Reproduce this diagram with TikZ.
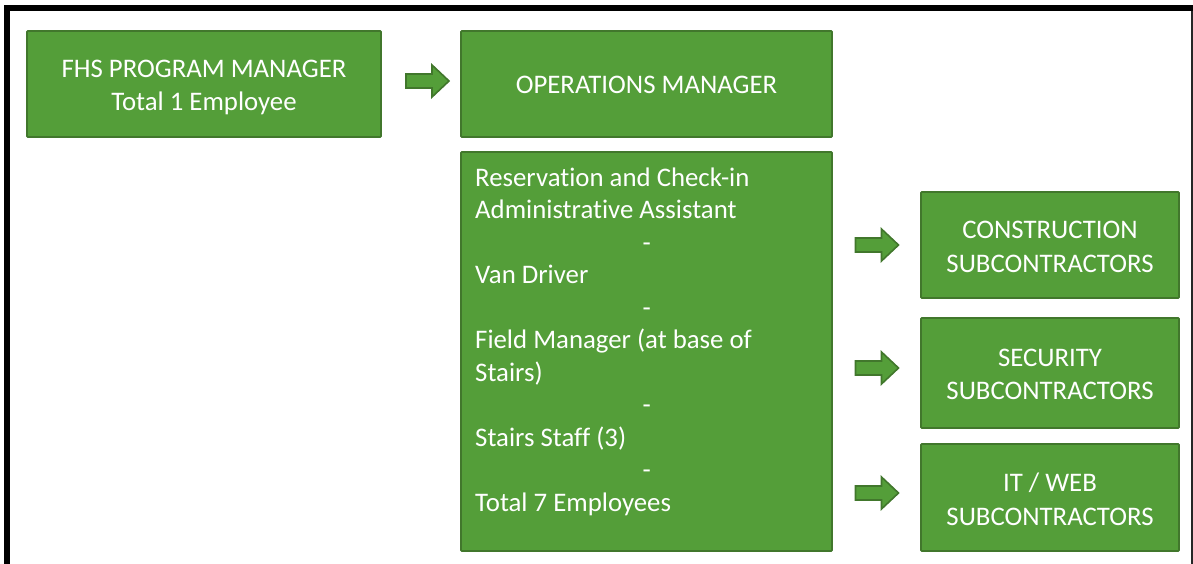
\documentclass[tikz,border=0pt]{standalone}
\usepackage{fontspec}
\setmainfont[Ligatures=NoCommon]{Carlito}
\usetikzlibrary{calc}
\definecolor{gfill}{HTML}{549E39}
\definecolor{gline}{HTML}{41772C}
\tikzset{
  box/.style={draw=gline, line width=1.6pt, fill=gfill, text=white, align=center,
    inner sep=0pt, rounded corners=0.8pt, font=\fontsize{26.8}{32.7}\selectfont},
  blockarr/.style={draw=gline, line width=1.6pt, fill=gfill, line join=miter},
  frameline/.style={line width=6pt, black}
}
\renewcommand{\arraystretch}{1.02}
\newcommand{\twolines}[3]{\raisebox{-#1}[\height][\depth]{\begin{tabular}{@{}c@{}}#2\\#3\end{tabular}}}
\newcommand{\blockarrow}[1]{%
  \draw[blockarr] ($(#1)+(-21.5,-7)$) -- ++(26,0) -- ++(0,-9) -- ++(17,16)
    -- ++(-17,16) -- ++(0,-9) -- ++(-26,0) -- cycle;}
\begin{document}
\begin{tikzpicture}[x=1pt,y=-1pt]
\useasboundingbox (0,0) rectangle (1193,564);
% frame
\draw[frameline] (7,564) -- (7,8) -- (1193,8);
\draw[line width=1.5pt, black!85] (1192,11) -- (1192,564);
% boxes
\node[box, minimum width=354pt, minimum height=106pt] (fhs) at (204,84)
  {\twolines{3.5pt}{FHS PROGRAM MANAGER}{Total 1 Employee}};
\node[box, minimum width=371pt, minimum height=106pt] (ops) at (646.5,84)
  {\raisebox{-1pt}[\height][\depth]{OPERATIONS MANAGER}};
\node[box, minimum width=371pt, minimum height=399pt] (staff) at (646.5,351.5) {};
\node[anchor=base west, inner sep=0pt, text=white,
      font=\fontsize{26.8}{32.5}\selectfont] (stafftext) at (475,186)
  {\begin{minipage}[t]{343pt}\raggedright
   Reservation and Check-in\\
   Administrative Assistant\\
   \makebox[\linewidth]{-}\\
   Van Driver\\
   \makebox[\linewidth]{-}\\
   Field Manager (at base of\\
   Stairs)\\
   \makebox[\linewidth]{-}\\
   Stairs Staff (3)\\
   \makebox[\linewidth]{-}\\
   Total 7 Employees
   \end{minipage}};
\node[box, minimum width=258pt, minimum height=106pt] (con) at (1050,245)
  {\twolines{4pt}{CONSTRUCTION}{SUBCONTRACTORS}};
\node[box, minimum width=258pt, minimum height=110pt] (sec) at (1050,373)
  {\twolines{3.5pt}{SECURITY}{SUBCONTRACTORS}};
\node[box, minimum width=258pt, minimum height=107pt] (it) at (1050,497.5)
  {\twolines{4.5pt}{IT / WEB}{SUBCONTRACTORS}};
% arrows
\coordinate (a1) at (427.5,81);
\coordinate (a2) at (877,245);
\coordinate (a3) at (877,368);
\coordinate (a4) at (877,493);
\blockarrow{a1}
\blockarrow{a2}
\blockarrow{a3}
\blockarrow{a4}
\end{tikzpicture}
\end{document}
